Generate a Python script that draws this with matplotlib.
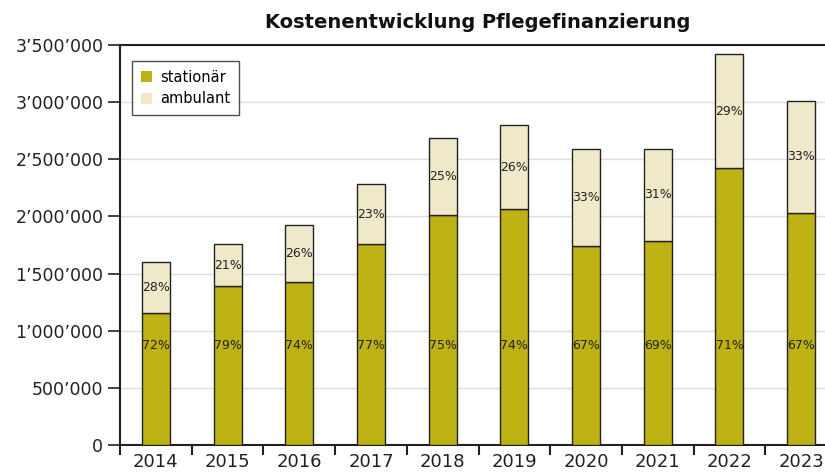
import matplotlib
matplotlib.use("Agg")
import matplotlib.pyplot as plt
import numpy as np
from matplotlib.ticker import FuncFormatter, FixedLocator

years = ["2014", "2015", "2016", "2017", "2018", "2019", "2020", "2021", "2022", "2023"]
stationaer = [1155000, 1389000, 1423000, 1756000, 2012000, 2065000, 1739000, 1785000, 2427000, 2033000]
ambulant = [446000, 367000, 502000, 528000, 674000, 735000, 854000, 808000, 991000, 980000]
pct_stationaer = ["72%", "79%", "74%", "77%", "75%", "74%", "67%", "69%", "71%", "67%"]
pct_ambulant = ["28%", "21%", "26%", "23%", "25%", "26%", "33%", "31%", "29%", "33%"]
yticks = [0, 500000, 1000000, 1500000, 2000000, 2500000, 3000000, 3500000]
title = "Kostenentwicklung Pflegefinanzierung"

c_stat = "#BDB114"
c_amb = "#EFE9CA"
edge = "#222222"

fig = plt.figure(figsize=(8.25, 4.72), dpi=100)
ax = fig.add_axes([120/825, 1-445/472, 717/825, 400/472])

x = np.arange(len(years))
w = 0.39
ax.bar(x, stationaer, width=w, color=c_stat, edgecolor=edge, linewidth=1, label="stationär", zorder=3)
ax.bar(x, ambulant, width=w, bottom=stationaer, color=c_amb, edgecolor=edge, linewidth=1, label="ambulant", zorder=3)

for i in range(len(years)):
    ax.text(x[i], 875000, pct_stationaer[i], ha="center", va="center", fontsize=9, color="#222222", zorder=4)
    ax.text(x[i], stationaer[i] + ambulant[i] / 2, pct_ambulant[i], ha="center", va="center", fontsize=9, color="#222222", zorder=4)

ax.set_xlim(-0.5, len(years) - 0.5)
ax.set_ylim(0, 3500000)
ax.yaxis.set_major_locator(FixedLocator(yticks))
ax.yaxis.set_major_formatter(FuncFormatter(lambda v, p: f"{int(v):,}".replace(",", "\u2019")))
ax.set_xticks(x)
ax.set_xticklabels(years)
ax.xaxis.set_minor_locator(FixedLocator(np.arange(-0.5, len(years), 1.0)))
ax.tick_params(axis="x", which="major", length=0, labelsize=13, pad=6, colors="#222222")
ax.tick_params(axis="x", which="minor", length=7, width=1.5, color="#222222")
ax.tick_params(axis="y", length=9, width=1.2, labelsize=12.5, pad=3, color="#222222", labelcolor="#222222")

ax.grid(axis="y", color="#DDDDDD", linewidth=1, zorder=0)
for s in ["left", "bottom", "top"]:
    ax.spines[s].set_color("#222222")
    ax.spines[s].set_linewidth(1.5)
ax.spines["right"].set_visible(False)

leg = ax.legend(loc="upper left", bbox_to_anchor=(12/717, 1-16/400), borderaxespad=0, fontsize=10.5, frameon=True,
                fancybox=False, edgecolor="#222222", handlelength=0.75, handleheight=0.75,
                borderpad=0.6, labelspacing=0.45, handletextpad=0.55)
leg.get_frame().set_linewidth(1)
for h in leg.legend_handles:
    h.set_edgecolor("none")

fig.text(478/825, 1-22/472, title, ha="center", va="center", fontsize=14, fontweight="bold", color="#111111")

fig.savefig("out.png", dpi=100)
